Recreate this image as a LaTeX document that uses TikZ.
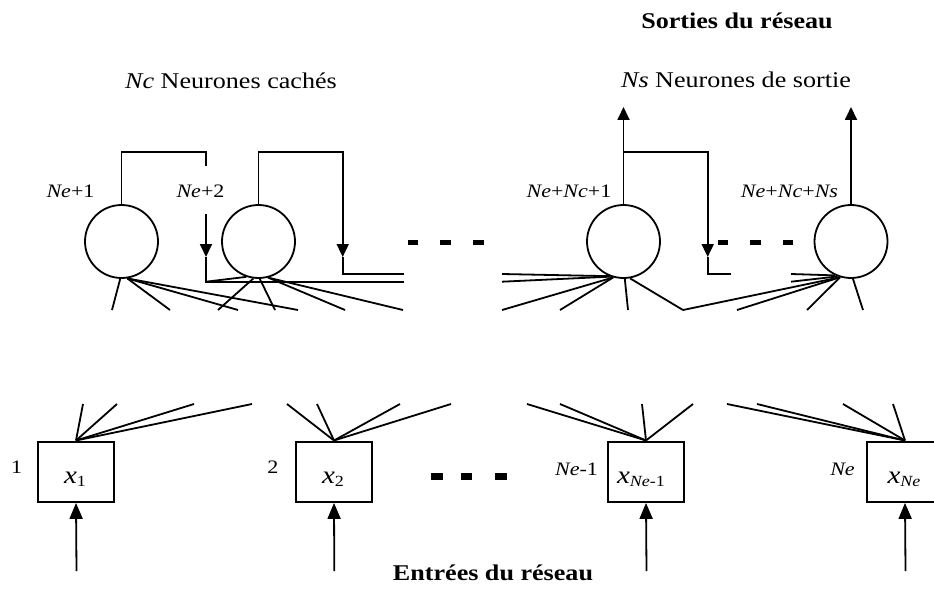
\documentclass[tikz,border=0pt]{standalone}
\usepackage{fontspec}
\setmainfont{Liberation Serif}[FakeStretch=1.16]
\usetikzlibrary{arrows.meta}
\tikzset{
  ln/.style={line width=1.8pt},
  neuron/.style={circle, draw, line width=1.8pt, minimum size=73pt, inner sep=0pt},
  inbox/.style={rectangle, draw, line width=2.4pt, minimum width=76pt, minimum height=60pt, inner sep=0pt},
  arr/.style={-{Triangle[length=13pt,width=12pt]}},
  inarr/.style={-{Triangle[length=16pt,width=13pt]}},
  lab/.style={font=\fontsize{19}{21}\selectfont, inner sep=0pt, anchor=base},
  hd/.style={font=\fontsize{22.5}{25}\selectfont, inner sep=0pt, anchor=base},
  ttl/.style={font=\fontsize{22.5}{25}\selectfont\bfseries, inner sep=0pt, anchor=base},
  xt/.style={font=\fontsize{25}{27}\selectfont, inner sep=0pt, anchor=base},
  dashbar/.style={fill=black, draw=none}
}
\newcommand{\subsc}[1]{\raisebox{-3pt}{\fontsize{15.5}{16}\selectfont #1}}
\begin{document}
\begin{tikzpicture}[x=1pt,y=-1pt]
\clip (0,0) rectangle (934,591);
\fill[white] (0,0) rectangle (934,591);

% neurons
\node[neuron] (c1) at (121.5,241.5) {};
\node[neuron] (c2) at (258.5,241.5) {};
\node[neuron] (c3) at (623.5,241.5) {};
\node[neuron] (c4) at (851,241.5) {};

% input boxes
\node[inbox] (b1) at (76,471.7) {};
\node[inbox] (b2) at (334,471.7) {};
\node[inbox] (b3) at (646,471.7) {};
\node[inbox] (b4) at (905,471.7) {};

% upper (cut) parts of the connections
\foreach \c/\ang/\x/\n in {1/-92/112/11, 1/-81/170/12, 1/-81/238/13, 1/-81/298/14,
  2/-98/218/21, 2/-88/275/22, 2/-75/345/23, 2/-75/403/24,
  3/-106/502/31, 3/-106/560/32, 3/-88/628/33, 3/-80/683/34,
  4/-107/683/41, 4/-107/737/42, 4/-107/807/43, 4/-87/863/44}
{ \coordinate (u\n) at (\x,310); \draw[ln] (c\c.\ang) -- (u\n); }

% lower (cut) parts of the connections
\foreach \b/\x/\n in {1/83/11, 1/117/12, 1/194/13, 1/252/14,
  2/287/21, 2/317/22, 2/400/23, 2/451/24,
  3/527/31, 3/560/32, 3/642/33, 3/693/34,
  4/727/41, 4/757/42, 4/843/43, 4/893/44}
{ \coordinate (l\n) at (\x,404); \draw[ln] (l\n) -- (b\b.north); }

% feedback of neuron 1
\coordinate (f1a) at (121.5,152);
\coordinate (f1b) at (206,152);
\coordinate (f1c) at (206,166);
\coordinate (f1d) at (206,214);
\coordinate (f1t) at (206,257);
\coordinate (f1e) at (206,281.7);
\coordinate (f1f) at (404,281.7);
\coordinate (f1g) at (502,281.7);
\draw[ln] (c1.north) -- (f1a) -- (f1b) -- (f1c);
\draw[ln,arr] (f1d) -- (f1t);
\draw[ln] (f1t) -- (f1e) -- (f1f);
\draw[ln] (f1e) -- (c2.-109);
\draw[ln] (f1g) -- (c3.-110);

% feedback of neuron 2
\coordinate (f2a) at (258.5,152);
\coordinate (f2b) at (342.7,152);
\coordinate (f2t) at (342.7,257);
\coordinate (f2e) at (342.7,274);
\coordinate (f2f) at (404,274);
\coordinate (f2g) at (502,274);
\draw[ln,arr] (c2.north) -- (f2a) -- (f2b) -- (f2t);
\draw[ln] (f2t) -- (f2e) -- (f2f);
\draw[ln] (f2g) -- (c3.-112);

% output neuron Ne+Nc+1
\coordinate (o3) at (623.5,107);
\draw[ln,arr] (c3.north) -- (o3);
\coordinate (f3a) at (623.5,152);
\coordinate (f3b) at (707.7,152);
\coordinate (f3t) at (707.7,257);
\coordinate (f3e) at (707.7,274);
\coordinate (f3f) at (730.7,274);
\coordinate (f3g) at (791,274);
\coordinate (f3h) at (791,281.7);
\draw[ln,arr] (f3a) -- (f3b) -- (f3t);
\draw[ln] (f3t) -- (f3e) -- (f3f);
\draw[ln] (f3g) -- (c4.-115);
\draw[ln] (f3h) -- (c4.-111);

% output neuron Ne+Nc+Ns
\coordinate (o4) at (851,107);
\draw[ln,arr] (c4.north) -- (o4);

% input arrows
\foreach \b/\x in {1/76.5, 2/334.3, 3/646.5, 4/905.5}
{ \coordinate (i\b) at (\x,571); \draw[ln,inarr] (i\b) -- (b\b.south); }

% dashes
\foreach \xa/\xb in {408/418, 440/451, 473/484, 718/728, 750/761, 783/793}
  \fill[dashbar] (\xa,239.5) rectangle (\xb,245);
\foreach \xa/\xb in {431/443, 461/472, 495/507}
  \fill[dashbar] (\xa,473) rectangle (\xb,479.5);

% titles
\node[ttl] (tsort) at (737,29) {Sorties du réseau};
\node[hd] (tcach) at (231,89) {\textit{Nc} Neurones cachés};
\node[hd] (tsorn) at (736,88) {\textit{Ns} Neurones de sortie};
\node[ttl] (tentr) at (493,580) {Entrées du réseau};

% neuron labels
\node[lab] (n1) at (70.5,197) {\textit{Ne}+1};
\node[lab] (n2) at (200.5,197) {\textit{Ne}+2};
\node[lab] (n3) at (569,197) {\textit{Ne}+\textit{Nc}+1};
\node[lab] (n4) at (789.5,197) {\textit{Ne}+\textit{Nc}+\textit{Ns}};

% input labels
\node[lab] (m1) at (16.7,473) {1};
\node[lab] (m2) at (273,473) {2};
\node[lab] (m3) at (576.5,475) {\textit{Ne}-1};
\node[lab] (m4) at (842.5,475) {\textit{Ne}};

% box contents
\node[xt] (x1) at (75,483) {\textit{x}\subsc{1}};
\node[xt] (x2) at (333,483) {\textit{x}\subsc{2}};
\node[xt] (x3) at (641,483) {\textit{x}\subsc{\textit{Ne}-1}};
\node[xt] (x4) at (904,483) {\textit{x}\subsc{\textit{Ne}}};
\end{tikzpicture}
\end{document}
